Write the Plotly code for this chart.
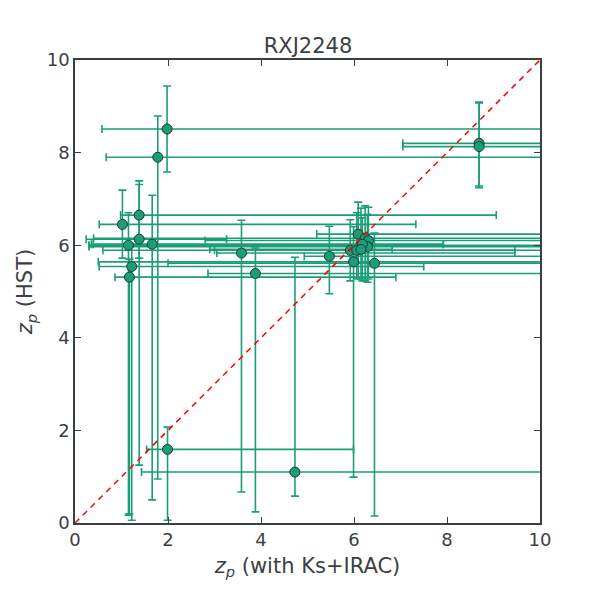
import plotly.graph_objects as go

# photometric redshifts: with Ks+IRAC (x) vs HST (y), with lower/upper bounds
zp_irac = [1.98, 1.78, 8.69, 8.69, 1.02, 1.38, 1.38, 1.15, 1.66, 3.58, 1.22, 1.17, 3.88,
           4.73, 1.99, 6.09, 6.24, 6.31, 6.29, 6.18, 5.92, 6.06, 6.15, 5.47, 5.99, 6.44]
zp_irac_lo = [0.58, 0.67, 7.05, 7.05, 0.52, 0.98, 0.24, 0.30, 0.39, 3.05, 0.52, 0.86, 2.86,
              1.43, 1.54, 5.20, 0.40, 2.80, 0.30, 0.35, 3.00, 0.60, 2.90, 4.93, 0.50, 2.00]
zp_irac_hi = [12.0, 12.0, 12.0, 12.0, 7.33, 9.06, 3.26, 12.0, 7.92, 9.46, 7.50, 6.90, 12.0,
              12.0, 5.99, 12.0, 12.0, 12.0, 12.0, 7.92, 9.46, 12.0, 6.82, 12.0, 12.0, 12.0]
zp_hst = [8.51, 7.90, 8.20, 8.13, 6.45, 6.65, 6.13, 6.00, 6.02, 5.83, 5.54, 5.31, 5.39,
          1.10, 1.59, 6.24, 6.15, 6.10, 5.97, 6.02, 5.89, 5.89, 5.91, 5.76, 5.64, 5.61]
zp_hst_lo = [7.58, 0.95, 7.28, 7.24, 5.72, 1.25, 5.72, 0.17, 0.50, 0.67, 0.06, 0.20, 0.24,
             0.58, 0.06, 5.27, 5.23, 5.27, 5.20, 5.23, 5.23, 5.30, 5.27, 4.95, 0.99, 0.15]
zp_hst_hi = [9.44, 8.79, 9.09, 9.07, 7.19, 7.39, 7.31, 6.70, 7.08, 6.54, 6.00, 5.70, 5.94,
             5.74, 2.07, 6.93, 6.85, 6.82, 6.67, 6.59, 6.55, 6.70, 6.80, 6.41, 6.40, 6.26]

green = "#1b9e77"
ink = "#3a3f44"
font_family = "DejaVu Sans, sans-serif"

fig = go.Figure()

fig.add_trace(go.Scatter(
    x=zp_irac, y=zp_hst, mode="markers",
    marker=dict(size=10, color=green, line=dict(color="#1d3b32", width=1)),
    error_x=dict(type="data", symmetric=False,
                 array=[h - v for h, v in zip(zp_irac_hi, zp_irac)],
                 arrayminus=[v - l for v, l in zip(zp_irac, zp_irac_lo)],
                 color=green, thickness=1.6, width=4),
    error_y=dict(type="data", symmetric=False,
                 array=[h - v for h, v in zip(zp_hst_hi, zp_hst)],
                 arrayminus=[v - l for v, l in zip(zp_hst, zp_hst_lo)],
                 color=green, thickness=1.6, width=4),
    showlegend=False,
))

# one-to-one line
fig.add_trace(go.Scatter(
    x=[0, 10], y=[0, 10], mode="lines",
    line=dict(color="red", width=1.5, dash="6px,5px"),
    showlegend=False,
))

axis_common = dict(
    range=[0, 10], dtick=2, showgrid=False, zeroline=False,
    showline=True, linecolor=ink, linewidth=1.5, mirror="ticks",
    ticks="inside", ticklen=6, tickcolor=ink,
    tickfont=dict(size=18, color=ink, family=font_family),
)

fig.update_layout(
    width=600, height=600,
    margin=dict(l=67, r=68, t=52, b=85),
    paper_bgcolor="white", plot_bgcolor="white",
    font=dict(family=font_family, color=ink),
    title=dict(text="RXJ2248", x=0.5, xanchor="center", y=0.938, yanchor="middle",
               font=dict(size=21, color=ink)),
    xaxis=dict(title=dict(text="<i>z<sub>p</sub></i> (with Ks+IRAC)",
                          font=dict(size=21, color=ink), standoff=9), **axis_common),
    yaxis=dict(title=dict(text="<i>z<sub>p</sub></i> (HST)",
                          font=dict(size=21, color=ink), standoff=8), **axis_common),
)

fig.write_html("out.html")
